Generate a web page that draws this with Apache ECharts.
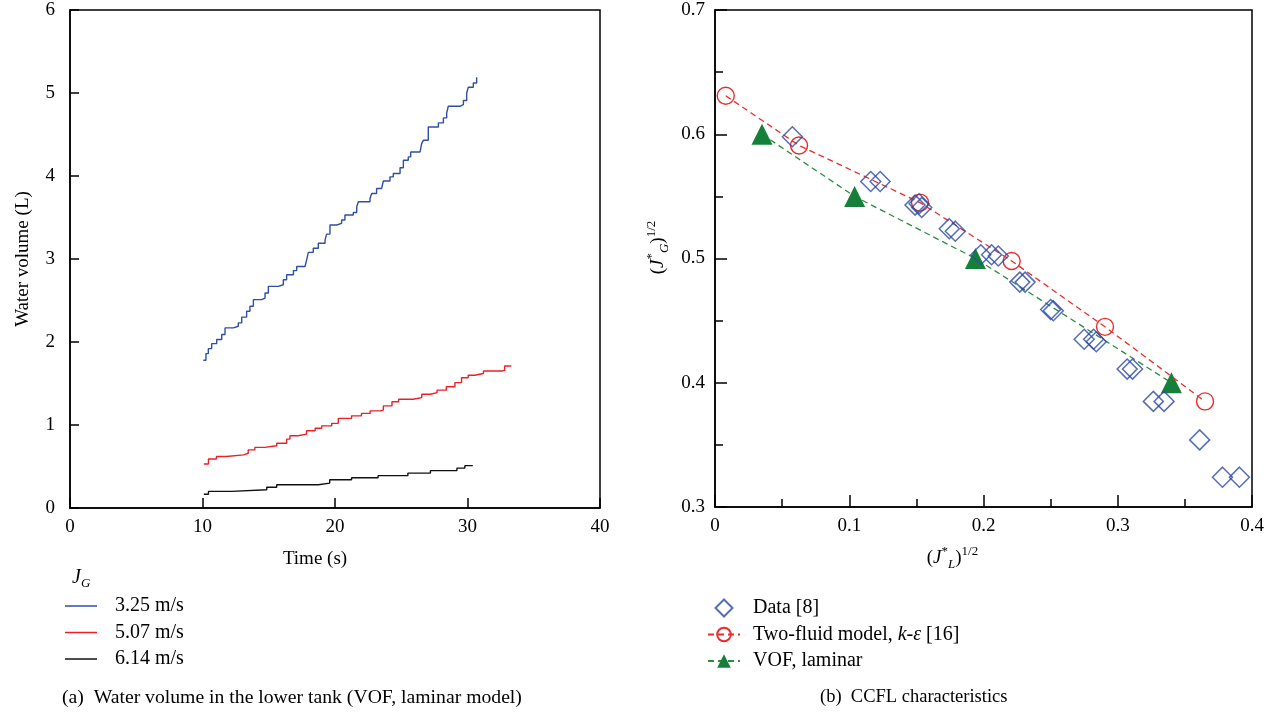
<!DOCTYPE html>
<html>
<head>
<meta charset="utf-8">
<script src="https://cdn.jsdelivr.net/npm/echarts@6/dist/echarts.min.js"></script>
<style>
  html, body { margin: 0; padding: 0; background: #fff; }
  #chart { width: 1273px; height: 713px; }
</style>
</head>
<body>
<div id="chart"></div>
<script>
// Left panel: water volume in the lower tank (step curves)
const blueT = [10.06, 10.26, 10.44, 10.69, 11.07, 11.45, 11.70, 12.33, 12.70, 12.96, 13.33, 13.58, 13.84, 14.47, 14.72, 14.97, 15.72, 16.10, 16.35, 16.86, 17.11, 17.74, 17.86, 17.99, 18.36, 18.74, 19.25, 19.37, 19.62, 20.13, 20.50, 20.75, 21.38, 21.64, 21.76, 22.64, 22.77, 23.14, 23.52, 23.65, 24.15, 24.40, 24.91, 25.16, 25.53, 25.71, 26.42, 26.54, 26.67, 27.04, 27.80, 28.18, 28.43, 28.55, 29.43, 29.69, 29.94, 30.06, 30.44, 30.69]
const blueV = [1.78, 1.86, 1.92, 1.98, 2.03, 2.09, 2.17, 2.19, 2.23, 2.30, 2.37, 2.43, 2.51, 2.53, 2.59, 2.67, 2.69, 2.75, 2.81, 2.86, 2.91, 2.92, 2.99, 3.08, 3.13, 3.19, 3.23, 3.30, 3.41, 3.43, 3.47, 3.53, 3.56, 3.63, 3.69, 3.73, 3.79, 3.85, 3.87, 3.94, 3.99, 4.03, 4.10, 4.19, 4.23, 4.29, 4.31, 4.39, 4.43, 4.59, 4.64, 4.70, 4.76, 4.84, 4.86, 4.91, 5.00, 5.07, 5.12, 5.19]
const redT = [10.1, 10.45, 11.05, 11.8, 13.1, 13.45, 13.95, 14.7, 15.6, 16.35, 16.6, 17.2, 17.85, 18.5, 19.0, 19.75, 20.25, 21.25, 22.0, 22.65, 23.4, 23.65, 24.3, 24.8, 25.9, 26.55, 27.2, 27.7, 28.4, 29.05, 29.55, 30.05, 30.55, 31.2, 32.6, 32.8, 33.3]
const redV = [0.53, 0.59, 0.62, 0.64, 0.66, 0.70, 0.73, 0.75, 0.78, 0.83, 0.87, 0.89, 0.93, 0.96, 0.99, 1.02, 1.08, 1.11, 1.14, 1.17, 1.18, 1.23, 1.28, 1.31, 1.33, 1.37, 1.39, 1.42, 1.46, 1.51, 1.57, 1.60, 1.62, 1.65, 1.66, 1.71, 1.71]
const blackT = [10.1, 10.45, 12.2, 14.85, 15.6, 18.75, 19.6, 21.25, 23.25, 25.5, 27.2, 29.2, 29.8, 30.4]
const blackV = [0.165, 0.20, 0.22, 0.25, 0.28, 0.30, 0.34, 0.365, 0.39, 0.42, 0.45, 0.48, 0.51, 0.51]
const leftNames = ['3.25 m/s', '5.07 m/s', '6.14 m/s']

// Right panel: CCFL characteristics
const dataX = [0.0576, 0.116, 0.123, 0.149, 0.152, 0.154, 0.1745, 0.179, 0.198, 0.206, 0.211, 0.227, 0.231, 0.250, 0.252, 0.275, 0.282, 0.284, 0.307, 0.311, 0.3265, 0.3345, 0.361, 0.378, 0.3906]
const dataY = [0.598, 0.562, 0.562, 0.543, 0.544, 0.541, 0.524, 0.522, 0.503, 0.503, 0.502, 0.481, 0.481, 0.459, 0.458, 0.435, 0.435, 0.433, 0.411, 0.411, 0.385, 0.385, 0.354, 0.324, 0.324]
const twoFluidX = [0.008, 0.0626, 0.1527, 0.221, 0.2905, 0.365]
const twoFluidY = [0.631, 0.591, 0.545, 0.498, 0.445, 0.385]
const vofX = [0.035, 0.104, 0.194, 0.340]
const vofY = [0.600, 0.550, 0.500, 0.400]
const rightNames = ['Data [8]', 'Two-fluid model, k-ε [16]', 'VOF, laminar']

const FONT = 'Liberation Serif'
const BLUE = '#2f4ea8'
const RED = '#ec2028'
const BLACK = '#111111'
const DATA_BLUE = '#2c4aa6'
const CIRCLE_RED = '#ee2b2b'
const GREEN = '#16803a'

const pairs = (xs, ys) => xs.map((x, i) => [x, ys[i]])

const supSub = {
  i: { fontFamily: FONT, fontStyle: 'italic', fontSize: 19, lineHeight: 26, color: '#000' },
  n: { fontFamily: FONT, fontSize: 19, lineHeight: 26, color: '#000' },
  sup: { fontFamily: FONT, fontSize: 13, lineHeight: 13, verticalAlign: 'top', color: '#000' },
  sub: { fontFamily: FONT, fontStyle: 'italic', fontSize: 13, lineHeight: 13, verticalAlign: 'bottom', color: '#000' },
}

const axisCommon = {
  axisLine: { show: true, onZero: false, lineStyle: { color: '#000', width: 1.5 } },
  splitLine: { show: false },
  axisLabel: { fontFamily: FONT, fontSize: 19, color: '#000' },
}

const chart = echarts.init(document.getElementById('chart'))
chart.setOption({
  animation: false,
  backgroundColor: '#fff',
  textStyle: { fontFamily: FONT },
  grid: [
    { left: 70, top: 10, width: 530, height: 498, show: true, borderColor: '#000', borderWidth: 1.5, backgroundColor: 'transparent' },
    { left: 715, top: 10, width: 537, height: 497, show: true, borderColor: '#000', borderWidth: 1.5, backgroundColor: 'transparent' },
  ],
  xAxis: [
    {
      ...axisCommon,
      gridIndex: 0, type: 'value', min: 0, max: 40, interval: 10,
      axisTick: { inside: true, length: 10, lineStyle: { color: '#000', width: 1.5 } },
      axisLabel: { ...axisCommon.axisLabel, margin: 10 },
      name: 'Time (s)', nameLocation: 'middle', nameGap: 42,
      nameTextStyle: { fontFamily: FONT, fontSize: 19, color: '#000', padding: [0, 40, 0, 0] },
    },
    {
      ...axisCommon,
      gridIndex: 1, type: 'value', min: 0, max: 0.4, interval: 0.1,
      axisTick: { inside: true, length: 12, lineStyle: { color: '#000', width: 1.5 } },
      minorTick: { show: true, splitNumber: 2, length: 8, lineStyle: { color: '#000', width: 1.5 } },
      axisLabel: { ...axisCommon.axisLabel, margin: 10 },
      name: '{n|(}{i|J}{sup|*}{sub|L}{n|)}{sup|1/2}', nameLocation: 'middle', nameGap: 38,
      nameTextStyle: { rich: supSub, padding: [0, 62, 0, 0] },
    },
  ],
  yAxis: [
    {
      ...axisCommon,
      gridIndex: 0, type: 'value', min: 0, max: 6, interval: 1,
      axisTick: { inside: true, length: 9, lineStyle: { color: '#000', width: 1.5 } },
      axisLabel: { ...axisCommon.axisLabel, margin: 15 },
      name: 'Water volume (L)', nameLocation: 'middle', nameGap: 37, nameRotate: 90,
      nameTextStyle: { fontFamily: FONT, fontSize: 19, color: '#000' },
    },
    {
      ...axisCommon,
      gridIndex: 1, type: 'value', min: 0.3, max: 0.7, interval: 0.1,
      axisTick: { inside: true, length: 12, lineStyle: { color: '#000', width: 1.5 } },
      minorTick: { show: true, splitNumber: 2, length: 8, lineStyle: { color: '#000', width: 1.5 } },
      axisLabel: { ...axisCommon.axisLabel, margin: 10 },
      name: '{n|(}{i|J}{sup|*}{sub|G}{n|)}{sup|1/2}', nameLocation: 'middle', nameGap: 44, nameRotate: 90,
      nameTextStyle: { rich: supSub, padding: [0, 0, 0, 22] },
    },
  ],
  legend: [
    {
      data: leftNames,
      orient: 'vertical', left: 60, top: 591,
      icon: 'rect', itemWidth: 32, itemHeight: 1.5, itemGap: 6.5,
      textStyle: { fontFamily: FONT, fontSize: 20, color: '#000', lineHeight: 20, padding: [0, 0, 0, 13] },
    },
    {
      data: [
        { name: rightNames[0], icon: 'path://M9,0 L18,9 L9,18 L0,9 Z' },
        { name: rightNames[1] },
        { name: rightNames[2] },
      ],
      orient: 'vertical', left: 702, top: 593,
      itemWidth: 32, itemHeight: 17, itemGap: 6.5,
      formatter: (name) => name === rightNames[1] ? 'Two-fluid model, {i|k}-{i|ε} [16]' : name,
      textStyle: {
        fontFamily: FONT, fontSize: 20, color: '#000', lineHeight: 20, padding: [0, 0, 0, 8],
        rich: { i: { fontFamily: FONT, fontStyle: 'italic', fontSize: 20, color: '#000' } },
      },
    },
  ],
  series: [
    {
      name: leftNames[0], type: 'line', xAxisIndex: 0, yAxisIndex: 0, step: 'end',
      showSymbol: false, lineStyle: { color: BLUE, width: 1.4 }, itemStyle: { color: BLUE },
      data: pairs(blueT, blueV),
    },
    {
      name: leftNames[1], type: 'line', xAxisIndex: 0, yAxisIndex: 0, step: 'end',
      showSymbol: false, lineStyle: { color: RED, width: 1.4 }, itemStyle: { color: RED },
      data: pairs(redT, redV),
    },
    {
      name: leftNames[2], type: 'line', xAxisIndex: 0, yAxisIndex: 0, step: 'end',
      showSymbol: false, lineStyle: { color: BLACK, width: 1.4 }, itemStyle: { color: BLACK },
      data: pairs(blackT, blackV),
    },
    {
      name: rightNames[0], type: 'scatter', xAxisIndex: 1, yAxisIndex: 1,
      symbol: 'diamond', symbolSize: 20,
      itemStyle: { color: 'rgba(0,0,0,0)', borderColor: DATA_BLUE, borderWidth: 1.5 },
      data: pairs(dataX, dataY), z: 4,
    },
    {
      name: rightNames[1], type: 'line', xAxisIndex: 1, yAxisIndex: 1,
      symbol: 'circle', symbolSize: 17, showSymbol: true,
      lineStyle: { color: CIRCLE_RED, width: 1.3, type: [6, 4] },
      itemStyle: { color: 'rgba(0,0,0,0)', borderColor: CIRCLE_RED, borderWidth: 1.4 },
      data: pairs(twoFluidX, twoFluidY), z: 3,
    },
    {
      name: rightNames[2], type: 'line', xAxisIndex: 1, yAxisIndex: 1,
      symbol: 'triangle', symbolSize: 21, showSymbol: true,
      lineStyle: { color: '#2b8c40', width: 1.3, type: [6, 4] },
      itemStyle: { color: GREEN },
      data: pairs(vofX, vofY), z: 2,
    },
  ],
  graphic: [
    {
      type: 'text', left: 72, top: 568,
      style: { text: '{i|J}{sub|G}', rich: {
        i: { fontFamily: FONT, fontStyle: 'italic', fontSize: 20, lineHeight: 24, fill: '#000' },
        sub: { fontFamily: FONT, fontStyle: 'italic', fontSize: 13, lineHeight: 13, verticalAlign: 'bottom', fill: '#000' },
      } },
    },
    {
      type: 'text', left: 62, top: 688,
      style: { text: '(a)  Water volume in the lower tank (VOF, laminar model)', font: '19.7px "Liberation Serif"', fill: '#000' },
    },
    {
      type: 'text', left: 820, top: 688,
      style: { text: '(b)  CCFL characteristics', font: '18.5px "Liberation Serif"', fill: '#000' },
    },
  ],
})
</script>
</body>
</html>
